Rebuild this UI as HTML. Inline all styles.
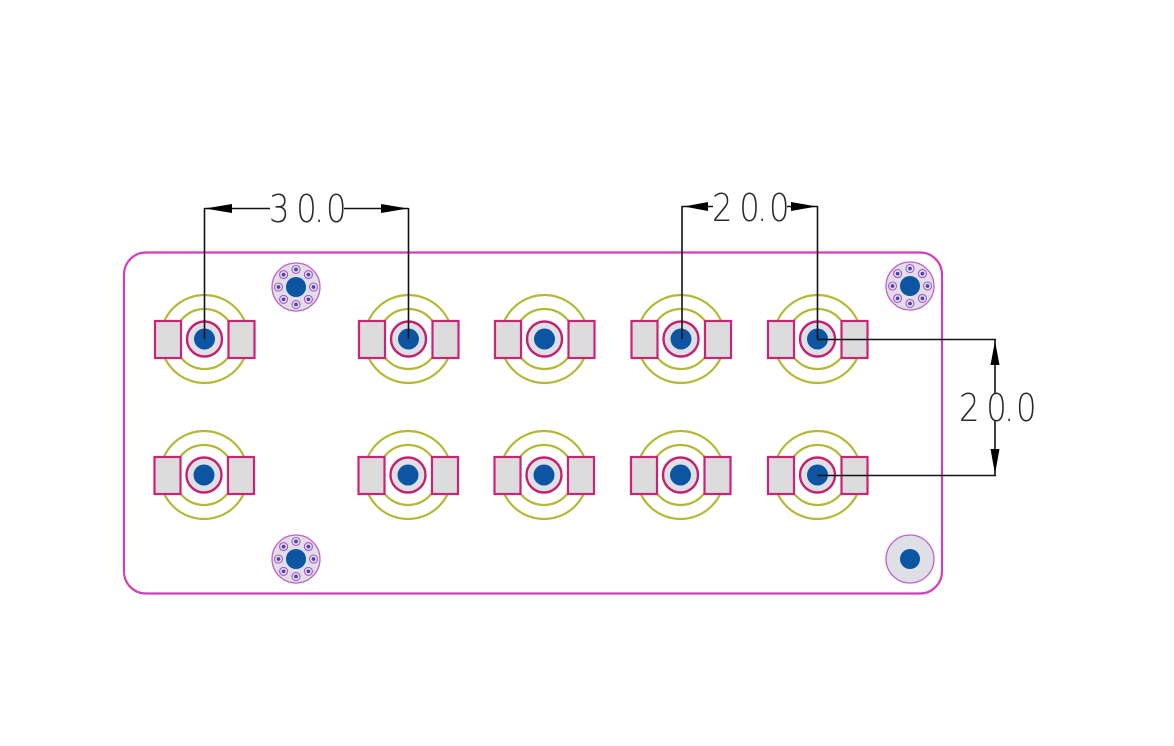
<!DOCTYPE html>
<html>
<head>
<meta charset="utf-8">
<style>
html,body{margin:0;padding:0;background:#fff;width:1174px;height:746px;overflow:hidden}
svg{display:block}
.dt{font-family:"DejaVu Sans","Liberation Sans",sans-serif;font-weight:200;font-size:38px;fill:#2a2a2a}
</style>
</head>
<body>
<svg width="1174" height="746" viewBox="0 0 1174 746" xmlns="http://www.w3.org/2000/svg">
<defs>
<g id="pad">
  <circle r="44" fill="none" stroke="#b4b935" stroke-width="2.2"/>
  <circle r="30" fill="none" stroke="#b4b935" stroke-width="2.2"/>
  <rect x="-49.5" y="-18" width="26" height="37" fill="#dcdcdc" stroke="#cc2277" stroke-width="2.2"/>
  <rect x="24" y="-18" width="26" height="37" fill="#dcdcdc" stroke="#cc2277" stroke-width="2.2"/>
  <circle r="17.5" fill="#dfdfe6" stroke="#c4206f" stroke-width="2.4"/>
  <circle r="10.5" fill="#0b55a3"/>
</g>
<g id="sr">
  <circle r="4" fill="#e8e0ee" stroke="#b84fd0" stroke-width="1.1"/>
  <circle r="1.9" fill="#3b4fa8"/>
</g>
<g id="mount">
  <circle r="24" fill="#dfdfe6" stroke="#c060cc" stroke-width="1.3"/>
  <circle r="10" fill="#0b55a3"/>
  <use href="#sr" x="0" y="-17.5"/><use href="#sr" x="12.4" y="-12.4"/>
  <use href="#sr" x="17.5" y="0"/><use href="#sr" x="12.4" y="12.4"/>
  <use href="#sr" x="0" y="17.5"/><use href="#sr" x="-12.4" y="12.4"/>
  <use href="#sr" x="-17.5" y="0"/><use href="#sr" x="-12.4" y="-12.4"/>
</g>
</defs>

<rect x="124" y="252.5" width="818" height="341" rx="22" ry="22" fill="#fff" stroke="#d23fbe" stroke-width="2.2"/>

<use href="#pad" x="204.5" y="339"/>
<use href="#pad" x="408.5" y="339"/>
<use href="#pad" x="544.5" y="339"/>
<use href="#pad" x="681" y="339"/>
<use href="#pad" x="817.5" y="339"/>
<use href="#pad" x="204" y="475"/>
<use href="#pad" x="408" y="475"/>
<use href="#pad" x="544" y="475"/>
<use href="#pad" x="680.5" y="475"/>
<use href="#pad" x="817.5" y="475"/>

<use href="#mount" x="296" y="287"/>
<use href="#mount" x="910" y="286"/>
<use href="#mount" x="296" y="559"/>
<circle cx="910" cy="559" r="24" fill="#dfdfe6" stroke="#c060cc" stroke-width="1.3"/>
<circle cx="910" cy="559" r="10" fill="#0b55a3"/>

<g fill="none" stroke="#111" stroke-width="1.6">
  <path d="M204.5 208V339M408.5 208V339M204.5 208.5H270M344 208.5H408.5"/>
  <path d="M682 206V339M817.5 206V339M682 206.5H713M787 206.5H817.5"/>
  <path d="M817.5 339.5H996M817.5 475.5H996M995 339.5V394M995 421V475.5"/>
</g>
<g fill="#000">
  <path d="M205 208.5L232 204V213Z"/>
  <path d="M408 208.5L381 204V213Z"/>
  <path d="M684 206.5L708 202V211Z"/>
  <path d="M816.5 206.5L791 202V211Z"/>
  <path d="M995 341L990.5 365H999.5Z"/>
  <path d="M995 474L990.5 449H999.5Z"/>
</g>

<text class="dt" transform="translate(269,222) scale(.85,1)" x="0 32 53 67" y="0">30.0</text>
<text class="dt" transform="translate(712,221) scale(.85,1)" x="0 32 53 67" y="0">20.0</text>
<text class="dt" transform="translate(959,421) scale(.85,1)" x="0 32 53 67" y="0">20.0</text>
</svg>
</body>
</html>
